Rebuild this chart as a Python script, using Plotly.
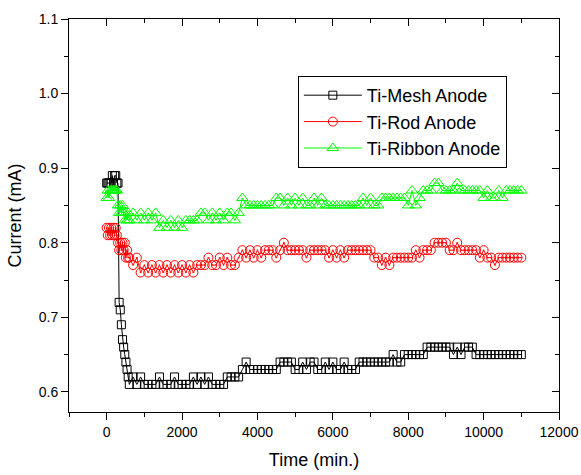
import plotly.graph_objects as go

# Sampling times (min.)
time_min = [0, 30, 60, 90, 120, 150, 180, 210, 240, 270, 300, 330, 360, 390, 420,
            450, 480, 510, 540, 570, 600] + list(range(700, 11001, 100))

mesh = [0.88, 0.88, 0.88, 0.88, 0.88, 0.89, 0.88, 0.89, 0.89, 0.88, 0.88,
        0.72, 0.71, 0.69, 0.67, 0.66, 0.65, 0.64, 0.63, 0.62, 0.61,
        # 700 - 3500
        0.62, 0.61, 0.62, 0.61, 0.61, 0.61, 0.61, 0.62, 0.61, 0.61,
        0.61, 0.62, 0.61, 0.61, 0.61, 0.61, 0.62, 0.61, 0.62, 0.61,
        0.62, 0.61, 0.61, 0.61, 0.61, 0.62, 0.62, 0.62, 0.62,
        # 3600 - 6600
        0.63, 0.64, 0.63, 0.63, 0.63, 0.63, 0.63, 0.63, 0.63, 0.63,
        0.64, 0.64, 0.64, 0.64, 0.63, 0.63, 0.64, 0.63, 0.64, 0.64,
        0.63, 0.63, 0.64, 0.63, 0.64, 0.63, 0.63, 0.64, 0.63, 0.63, 0.63,
        # 6700 - 11000
        0.64, 0.64, 0.64, 0.64, 0.64, 0.64, 0.64, 0.64, 0.64, 0.65,
        0.64, 0.64, 0.65, 0.65, 0.65, 0.65, 0.65, 0.65, 0.66, 0.66,
        0.66, 0.66, 0.66, 0.66, 0.66, 0.65, 0.66, 0.65, 0.66, 0.66,
        0.66, 0.65, 0.65, 0.65, 0.65, 0.65, 0.65, 0.65, 0.65, 0.65,
        0.65, 0.65, 0.65, 0.65]

rod = [0.82, 0.81, 0.82, 0.81, 0.82, 0.81, 0.82, 0.81, 0.82, 0.81, 0.80,
       0.79, 0.80, 0.79, 0.80, 0.79, 0.80, 0.78, 0.79, 0.78, 0.78,
       # 700 - 3500
       0.77, 0.78, 0.76, 0.77, 0.76, 0.77, 0.76, 0.77, 0.76, 0.77,
       0.76, 0.77, 0.76, 0.77, 0.76, 0.77, 0.76, 0.77, 0.77, 0.77,
       0.78, 0.77, 0.77, 0.78, 0.77, 0.78, 0.77, 0.77, 0.78,
       # 3600 - 5800
       0.79, 0.78, 0.79, 0.78, 0.79, 0.78, 0.79, 0.79, 0.79, 0.78,
       0.79, 0.80, 0.79, 0.79, 0.79, 0.79, 0.79, 0.78, 0.79, 0.79,
       0.79, 0.79, 0.79,
       # 5900 - 11000
       0.78, 0.79, 0.78, 0.79, 0.78, 0.79, 0.79, 0.79, 0.79, 0.79,
       0.79, 0.79, 0.78, 0.78, 0.77, 0.78, 0.77, 0.78, 0.78, 0.78,
       0.78, 0.78, 0.78, 0.79, 0.78, 0.79, 0.79, 0.79, 0.80, 0.80,
       0.80, 0.80, 0.79, 0.79, 0.80, 0.79, 0.79, 0.79, 0.79, 0.79,
       0.78, 0.79, 0.78, 0.78, 0.77, 0.78, 0.78, 0.78, 0.78, 0.78,
       0.78, 0.78]

ribbon = [0.86, 0.87, 0.86, 0.87, 0.87, 0.87, 0.87, 0.87, 0.87, 0.87, 0.85,
          0.84, 0.85, 0.84, 0.85, 0.84, 0.83, 0.84, 0.83, 0.84, 0.83,
          # 700 - 3500
          0.84, 0.83, 0.84, 0.83, 0.84, 0.83, 0.84, 0.82, 0.83, 0.82,
          0.83, 0.82, 0.83, 0.82, 0.83, 0.83, 0.83, 0.83, 0.84, 0.84,
          0.83, 0.84, 0.83, 0.84, 0.83, 0.84, 0.84, 0.83, 0.84,
          # 3600 - 5900
          0.86, 0.85, 0.85, 0.85, 0.85, 0.85, 0.85, 0.85, 0.85, 0.86,
          0.86, 0.85, 0.86, 0.85, 0.86, 0.85, 0.86, 0.85, 0.85, 0.86,
          0.85, 0.86, 0.85, 0.85,
          # 6000 - 11000
          0.85, 0.85, 0.85, 0.85, 0.85, 0.85, 0.85, 0.85, 0.86, 0.85,
          0.86, 0.85, 0.85, 0.86, 0.86, 0.86, 0.86, 0.86, 0.86, 0.86,
          0.85, 0.87, 0.85, 0.86, 0.87, 0.87, 0.87, 0.88, 0.88, 0.87,
          0.87, 0.87, 0.87, 0.88, 0.87, 0.87, 0.87, 0.87, 0.87, 0.87,
          0.86, 0.87, 0.86, 0.86, 0.87, 0.86, 0.87, 0.87, 0.87, 0.87,
          0.87]

series_names = ["Ti-Mesh Anode", "Ti-Rod Anode", "Ti-Ribbon Anode"]
series_values = [mesh, rod, ribbon]
colors = ["#000000", "#FF0000", "#00FF00"]
symbols = ["square-open", "circle-open-dot", "triangle-up-open"]
sizes = [8, 9, 10]

x_ticks = [0, 2000, 4000, 6000, 8000, 10000, 12000]
x_ticktext = ["0", "2000", "4000", "6000", "8000", "10000", "12000"]
y_ticks = [0.6, 0.7, 0.8, 0.9, 1.0, 1.1]
y_ticktext = ["0.6", "0.7", "0.8", "0.9", "1.0", "1.1"]

FONT = "Arial, 'Liberation Sans', sans-serif"

fig = go.Figure()
for name, vals, c, s, sz in zip(series_names, series_values, colors, symbols, sizes):
    fig.add_trace(go.Scatter(
        x=time_min, y=vals, name=name, mode="lines+markers",
        line=dict(color=c, width=1),
        marker=dict(symbol=s, size=sz, color=c, line=dict(color=c, width=1)),
    ))

# empty trace to carry the mirror axes (top/right, inward ticks)
fig.add_trace(go.Scatter(x=[], y=[], xaxis="x2", yaxis="y2", showlegend=False,
                         hoverinfo="skip"))

xr = [-1000, 12000]
yr = [0.573, 1.1]

fig.update_layout(
    width=581, height=475,
    margin=dict(l=69, r=22, t=19, b=63),
    paper_bgcolor="white", plot_bgcolor="white",
    font=dict(family=FONT, size=14, color="black"),
    showlegend=True,
    legend=dict(x=0.467, y=0.855, xanchor="left", yanchor="top",
                bgcolor="white", bordercolor="black", borderwidth=1,
                font=dict(family=FONT, size=18, color="black"),
                tracegroupgap=0, itemwidth=58),
    xaxis=dict(range=xr, tickvals=x_ticks, ticktext=x_ticktext,
               ticks="outside", ticklen=7, automargin=False,
               tickwidth=1, tickcolor="black", showline=True, linecolor="black",
               linewidth=1, showgrid=False, zeroline=False,
               tickfont=dict(size=14),
               minor=dict(dtick=1000, ticks="outside", ticklen=4,
                          tickcolor="black", showgrid=False),
               title=dict(text="Time (min.)", font=dict(size=18), standoff=14)),
    yaxis=dict(range=yr, tickvals=y_ticks, ticktext=y_ticktext,
               ticks="outside", automargin=False,
               ticklen=7, tickwidth=1, tickcolor="black", showline=True,
               linecolor="black", linewidth=1, showgrid=False, zeroline=False,
               tickfont=dict(size=14),
               minor=dict(dtick=0.05, tick0=0.6, ticks="outside", ticklen=4,
                          tickcolor="black", showgrid=False),
               title=dict(text="Current (mA)", font=dict(size=18), standoff=12)),
    xaxis2=dict(range=xr, overlaying="x", side="top", tickvals=x_ticks,
                ticks="inside", ticklen=7, tickcolor="black", showline=True,
                linecolor="black", linewidth=1, showticklabels=False,
                showgrid=False, zeroline=False, automargin=False,
                minor=dict(dtick=1000, ticks="inside", ticklen=4,
                           tickcolor="black", showgrid=False)),
    yaxis2=dict(range=yr, overlaying="y", side="right", tickvals=y_ticks,
                ticks="inside", ticklen=7, tickcolor="black", showline=True,
                linecolor="black", linewidth=1, showticklabels=False,
                showgrid=False, zeroline=False, automargin=False,
                minor=dict(dtick=0.05, tick0=0.6, ticks="inside", ticklen=4,
                           tickcolor="black", showgrid=False)),
)

fig.write_html("out.html",
               config={"displayModeBar": False},
               post_script="document.body.style.margin='0';"
                           "document.body.style.overflow='hidden';")
